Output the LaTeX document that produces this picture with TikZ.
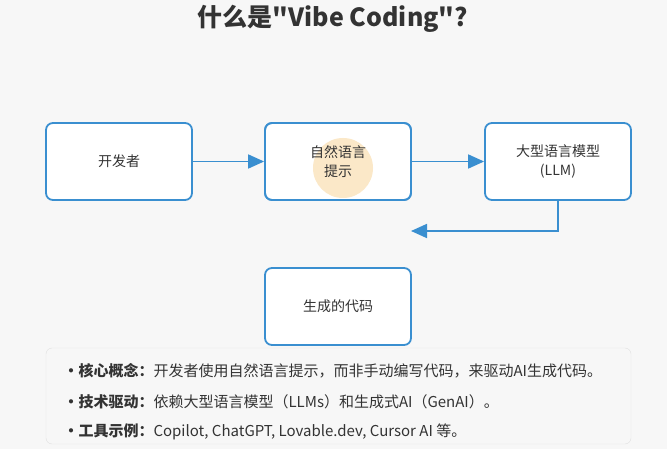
\documentclass[tikz,border=0pt]{standalone}
\usepackage{fontspec}
\setmainfont{Liberation Sans}
\newfontfamily\cjk{Noto Sans CJK SC}
\usetikzlibrary{arrows.meta}
\definecolor{bl}{HTML}{3A8FD0}
\definecolor{tx}{HTML}{333333}
\definecolor{peach}{HTML}{FBE8C8}
\tikzset{box/.style={draw=bl,line width=1.8pt,fill=white,rounded corners=7pt,minimum width=146pt,minimum height=77pt,align=center,font=\cjk\fontsize{14}{19}\selectfont,text=tx},
arr/.style={draw=bl,line width=1.8pt,-{Triangle[length=16pt,width=14pt]}},
bul/.style={anchor=west,font=\cjk\fontsize{15}{18}\selectfont,text=tx}}
\begin{document}
\begin{tikzpicture}[x=1pt,y=-1pt]
\fill[white!97!black] (0,0) rectangle (667,449);
\useasboundingbox (0,0) rectangle (667,449);
\node[font=\cjk\bfseries\fontsize{25}{28}\selectfont,text=tx] (title) at (333,19) {什么是"Vibe Coding"?};
\node[box] (dev) at (119,161.5) {开发者};
\node[box] (nlbg) at (338,161.5) {\phantom{提示}};
\fill[peach] (343,168) circle (30);
\node[box,fill=none] (nl) at (338,161.5) {自然语言\\提示};
\node[box] (llm) at (558,161.5) {大型语言模型\\(LLM)};
\node[box] (code) at (338,306.5) {生成的代码};
\draw[arr] (dev) -- (nl);
\draw[arr] (nl) -- (llm);
\coordinate (e) at (411,231);
\draw[arr] (llm.south) |- (e);
\node[draw=black!12,fill=white!97!black,rounded corners=6pt,minimum width=585pt,minimum height=96pt] (info) at (338.5,396) {};
\node[bul] (b1) at (60,371) {\textbf{·核心概念：}开发者使用自然语言提示，而非手动编写代码，来驱动AI生成代码。};
\node[bul] (b2) at (60,402) {\textbf{·技术驱动：}依赖大型语言模型（LLMs）和生成式AI（GenAI）。};
\node[bul] (b3) at (60,432) {\textbf{·工具示例：}Copilot, ChatGPT, Lovable.dev, Cursor AI 等。};
\end{tikzpicture}
\end{document}
